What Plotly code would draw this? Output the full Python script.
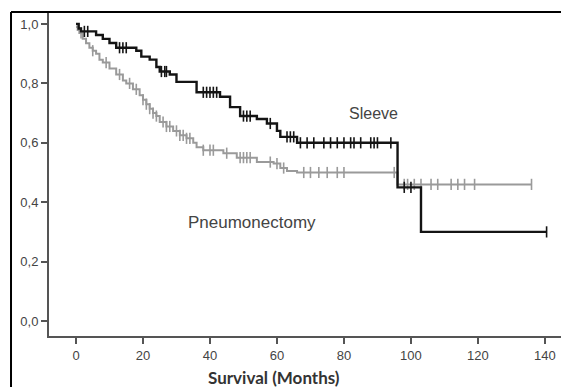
import numpy as np
import plotly.graph_objects as go

# Kaplan-Meier step data
sleeve_t = [0, 0.8, 1.5, 6, 8, 10, 12, 18, 19.5, 22, 24, 25, 28, 30, 36, 43, 46, 49, 54, 57, 60, 61, 66, 96, 103]
sleeve_s = [1.0, 0.985, 0.975, 0.963, 0.95, 0.936, 0.92, 0.91, 0.89, 0.88, 0.855, 0.84, 0.83, 0.805, 0.77, 0.755,
            0.72, 0.69, 0.68, 0.665, 0.64, 0.62, 0.60, 0.45, 0.30]
sleeve_end = 140.5
sleeve_cens = [2.5, 3.5, 13, 14, 15, 25.5, 26.5, 27, 38, 39, 40, 41, 42, 50, 51, 52, 58, 63, 64, 65, 67, 69, 71,
               74, 76, 78, 80, 82, 83, 85, 88, 89, 90, 94, 98, 100, 140.5]

pneu_t = [0, 0.5, 1, 2, 3, 4, 5, 6, 7, 8, 10, 12, 14, 15, 17, 19, 20, 21, 22, 23, 24, 25, 27, 29, 31, 33, 35, 36,
          38, 44, 48, 54, 59, 61, 63, 66, 96]
pneu_s = [0.99, 0.98, 0.97, 0.95, 0.935, 0.92, 0.91, 0.90, 0.88, 0.87, 0.85, 0.83, 0.81, 0.80, 0.78, 0.76, 0.745,
          0.73, 0.715, 0.70, 0.69, 0.67, 0.655, 0.64, 0.625, 0.615, 0.60, 0.585, 0.575, 0.565, 0.55, 0.535, 0.53,
          0.515, 0.505, 0.50, 0.46]
pneu_end = 136
pneu_cens = [1.5, 5, 9, 13, 16, 18, 20, 21, 22, 23, 24, 26, 27, 28, 30, 31, 32, 33, 34, 38, 40, 41, 45, 49, 50,
             51, 52, 58, 60, 62, 68, 70, 72.5, 75, 78, 80, 95, 98, 99, 101, 103, 106, 108, 112, 114, 116, 119, 136]

y_ticks = [0.0, 0.2, 0.4, 0.6, 0.8, 1.0]
y_labels = ["0,0", "0,2", "0,4", "0,6", "0,8", "1,0"]
x_ticks = [0, 20, 40, 60, 80, 100, 120, 140]


def step_at(ts, ss, q):
    idx = np.searchsorted(np.array(ts), np.array(q), side="right") - 1
    return np.array(ss)[idx]


fig = go.Figure()
for ts, ss, end, cens, col, w in [
    (pneu_t, pneu_s, pneu_end, pneu_cens, "#9a9a9a", 2),
    (sleeve_t, sleeve_s, sleeve_end, sleeve_cens, "#141414", 2.4),
]:
    fig.add_trace(go.Scatter(x=list(ts) + [end], y=list(ss) + [ss[-1]], mode="lines",
                             line=dict(color=col, width=w, shape="hv"), hoverinfo="skip", showlegend=False))
    fig.add_trace(go.Scatter(x=cens, y=step_at(ts, ss, cens), mode="markers",
                             marker=dict(symbol="line-ns", size=8, line=dict(color=col, width=1.6)),
                             hoverinfo="skip", showlegend=False))

axis_col = "#555555"
fig.update_layout(
    width=561, height=387,
    margin=dict(l=49, r=0, t=13, b=51),
    paper_bgcolor="white", plot_bgcolor="white",
    font=dict(family="Liberation Sans, Arial, sans-serif", size=13, color="#444444"),
    xaxis=dict(range=[-8.06, 144.8], tickvals=x_ticks, showgrid=False, zeroline=False,
               showline=True, linecolor=axis_col, linewidth=2, ticks="outside", ticklen=6,
               tickwidth=2, tickcolor=axis_col, tickfont=dict(size=13, color="#444444")),
    yaxis=dict(range=[-0.0505, 1.037], tickvals=y_ticks, ticktext=y_labels, showgrid=False, zeroline=False,
               showline=True, linecolor=axis_col, linewidth=2, ticks="outside", ticklen=6,
               tickwidth=2, tickcolor=axis_col, tickfont=dict(size=13, color="#444444")),
    shapes=[
        dict(type="line", xref="paper", yref="paper", x0=-0.0742, x1=1.01, y0=1.003, y1=1.003,
             line=dict(color="black", width=2)),
        dict(type="line", xref="paper", yref="paper", x0=-0.0742, x1=-0.0742, y0=1.003, y1=-0.2,
             line=dict(color="black", width=2)),
    ],
    annotations=[
        dict(text="Sleeve", x=88.7, y=0.697, xref="x", yref="y", showarrow=False,
             font=dict(size=16, color="#444444")),
        dict(text="Pneumonectomy", x=52.5, y=0.333, xref="x", yref="y", showarrow=False,
             font=dict(size=17, color="#444444")),
        dict(text="<b>Survival (Months)</b>", x=(274 - 49) / 512, y=-0.13, xref="paper", yref="paper",
             showarrow=False, yanchor="middle", font=dict(family="Lato, sans-serif", size=17, color="#333333")),
    ],
)

fig.write_html("out.html", config={"displayModeBar": False},
               post_script="document.body.style.margin='0';document.body.style.overflow='hidden';")
